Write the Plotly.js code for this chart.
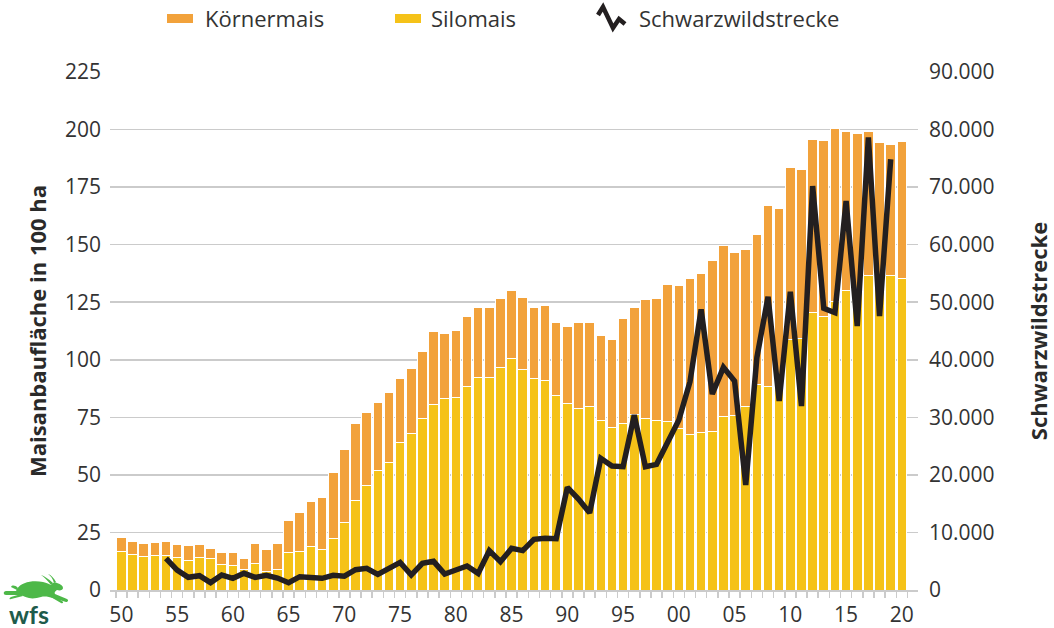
<!DOCTYPE html>
<html>
<head>
<meta charset="utf-8">
<script src="https://cdn.plot.ly/plotly-3.0.1.min.js"></script>
<style>
  html, body { margin: 0; padding: 0; background: #ffffff; }
  #chart { width: 1054px; height: 628px; }
</style>
</head>
<body>
<div id="chart"></div>
<script>
// ---------------- DATA ----------------
const years = [
  1950,1951,1952,1953,1954,1955,1956,1957,1958,1959,
  1960,1961,1962,1963,1964,1965,1966,1967,1968,1969,
  1970,1971,1972,1973,1974,1975,1976,1977,1978,1979,
  1980,1981,1982,1983,1984,1985,1986,1987,1988,1989,
  1990,1991,1992,1993,1994,1995,1996,1997,1998,1999,
  2000,2001,2002,2003,2004,2005,2006,2007,2008,2009,
  2010,2011,2012,2013,2014,2015,2016,2017,2018,2019,
  2020
];

// Silomais (100 ha)
const silomais = [
  16.8,15.3,14.5,15.2,14.9,14.2,12.7,14.3,13.8,11.0,
  10.7, 8.7,11.3, 8.0, 9.0,16.4,16.9,18.7,17.7,22.5,
  29.5,39.0,45.2,51.7,55.6,64.2,67.8,74.3,80.7,83.0,
  83.8,88.6,92.1,92.4,96.7,100.5,95.7,91.7,91.2,84.6,
  81.1,79.0,79.7,73.8,70.7,72.3,76.3,74.6,73.8,73.1,
  70.2,67.6,68.3,68.9,75.3,75.7,79.9,89.1,88.6,89.0,
  108.6,109.3,120.7,118.7,125.2,130.0,131.0,136.4,134.0,136.4,
  135.3
];

// Körnermais (100 ha)
const koernermais = [
  5.8,5.8,5.9,5.6,6.2,5.6,6.7,5.4,4.4,5.1,
  5.7,4.9,9.0,9.5,11.0,13.7,16.7,19.7,22.6,28.6,
  31.6,33.4,31.7,29.7,30.4,27.5,28.5,29.1,31.5,28.6,
  29.0,30.0,30.8,30.1,30.1,29.5,31.4,30.8,32.3,31.7,
  33.5,37.3,36.3,36.7,38.3,45.7,46.6,51.8,52.9,59.4,
  62.2,67.5,69.0,74.3,74.4,70.7,68.2,65.3,78.3,76.9,
  75.0,73.2,74.8,76.5,75.4,69.1,67.4,62.6,60.3,56.9,
  59.4
];

// Schwarzwildstrecke (Anzahl)
const schwarzwildstrecke = [
  null,null,null,null,5500,3470,2200,2490,1280,2600,
  2030,2900,2200,2550,2080,1270,2310,2080,2030,2550,
  2400,3530,3760,2720,3760,4800,2600,4630,4980,2780,
  3470,4170,2890,6840,4920,7240,6840,8800,8980,8920,
  17840,15800,13400,22880,21540,21430,30400,21430,21830,25770,
  29530,36190,48770,34050,38690,36310,18240,40400,50960,32840,
  51830,31970,70190,48940,48180,67580,45870,78650,47600,74830,
  null
];

const xTickVals   = [1950,1955,1960,1965,1970,1975,1980,1985,1990,1995,2000,2005,2010,2015,2020];
const xTickLabels = ['50','55','60','65','70','75','80','85','90','95','00','05','10','15','20'];
const yLeftTicks  = [0,25,50,75,100,125,150,175,200,225];
const yRightTicks = [0,10000,20000,30000,40000,50000,60000,70000,80000,90000];

const seriesNames = ['Körnermais', 'Silomais', 'Schwarzwildstrecke'];

// ---------------- STYLE ----------------
const C_KOERNER = '#F2A23B';
const C_SILO = '#F5C218';
const C_LINE = '#231F20';
const C_GRID = '#CBCBCB';
const C_TEXT = '#333333';

const W = 1054, H = 628;
const M = { l: 110, r: 136, t: 72, b: 38 };
const PW = W - M.l - M.r, PH = H - M.t - M.b;
const px = x => (x - M.l) / PW;          // pixel -> paper x
const py = y => (H - M.b - y) / PH;      // pixel -> paper y

const traces = [
  {
    type: 'bar', name: seriesNames[1], x: years, y: silomais,
    marker: { color: C_SILO, line: { color: '#ffffff', width: 1 } },
    hoverinfo: 'x+y', showlegend: false
  },
  {
    type: 'bar', name: seriesNames[0], x: years, y: koernermais,
    marker: { color: C_KOERNER, line: { color: '#ffffff', width: 1 } },
    hoverinfo: 'x+y', showlegend: false
  },
  {
    type: 'scatter', mode: 'lines', name: seriesNames[2],
    x: years, y: schwarzwildstrecke, yaxis: 'y2',
    line: { color: C_LINE, width: 5.5 },
    connectgaps: false, showlegend: false
  }
];

const tickFont = { family: '"Open Sans", sans-serif', size: 21, color: C_TEXT };
const titleFont = { family: '"Open Sans", sans-serif', size: 22, color: '#2a2a2a', weight: 'bold' };
const legendFont = { family: '"Open Sans", sans-serif', size: 22, color: C_TEXT };

// hare logo as inline SVG (decoration)
const hareSvg = "<svg xmlns='http://www.w3.org/2000/svg' viewBox='0 0 66 32'>" +
  "<g fill='#4DB848'>" +
  "<path d='M14,16 C18,9 30,7 40,9 C44,10 46,11 48,12 C49,10 51,9 54,10 C58,11 60,13 60,15 C60,17 57,18 54,17 C52,18 51,20 52,21 L64,26 C66,27 65,29 63,29 L50,25 C46,24 42,23 38,24 C34,25 30,26 26,25 C22,24 20,23 18,22 L3,22 C0,22 0,18 3,18 L13,18 Z'/>" +
  "<path d='M48,12 C45,8 41,4 38,2 C41,3 46,6 50,10 Z'/>" +
  "<path d='M51,10 C50,6 48,3 45,1 C48,2 51,5 53,9 Z'/>" +
  "<path d='M46,23 L58,30 C60,31 61,29 59,28 L49,22 Z'/>" +
  "<path d='M20,23 L8,26 C6,27 6,25 8,24 L18,21 Z'/>" +
  "<path d='M15,15 C12,12 9,12 8,14 C10,15 12,16 14,17 Z'/>" +
  "</g></svg>";

const layout = {
  width: W, height: H,
  margin: M,
  paper_bgcolor: '#ffffff', plot_bgcolor: '#ffffff',
  separators: ',.',
  barmode: 'stack',
  bargap: 0.14,
  showlegend: false,
  xaxis: {
    type: 'linear',
    range: [1948.98, 2021.45],
    tickmode: 'array', tickvals: xTickVals, ticktext: xTickLabels,
    ticks: '', ticklabelstandoff: 5,
    tickfont: tickFont,
    showgrid: false, zeroline: false,
    showline: true, linecolor: C_GRID, linewidth: 1.5,
    minor: { tickmode: 'linear', tick0: 1949.5, dtick: 1, ticks: 'outside', ticklen: 6, tickwidth: 1.5, tickcolor: C_GRID, showgrid: false },
    fixedrange: true
  },
  yaxis: {
    range: [0, 225],
    tickmode: 'array', tickvals: yLeftTicks,
    tickfont: tickFont, ticklabelstandoff: 8,
    showgrid: true, gridcolor: C_GRID, gridwidth: 1.5,
    zeroline: false, showline: false,
    title: { text: 'Maisanbaufläche in 100 ha', font: titleFont, standoff: 12 },
    fixedrange: true
  },
  yaxis2: {
    overlaying: 'y', side: 'right',
    range: [0, 90000],
    tickmode: 'array', tickvals: yRightTicks, tickformat: ',d',
    tickfont: tickFont, ticklabelstandoff: 10,
    showgrid: false, zeroline: false, showline: false,
    title: { text: 'Schwarzwildstrecke', font: titleFont, standoff: 38 },
    fixedrange: true
  },
  shapes: [
    { type: 'rect', xref: 'paper', yref: 'paper', x0: px(167), x1: px(193), y0: py(23), y1: py(14),
      fillcolor: C_KOERNER, line: { width: 0 } },
    { type: 'rect', xref: 'paper', yref: 'paper', x0: px(395), x1: px(421), y0: py(23), y1: py(14),
      fillcolor: C_SILO, line: { width: 0 } },
    { type: 'path', xref: 'paper', yref: 'paper',
      path: 'M' + px(598) + ',' + py(15) + ' L' + px(603) + ',' + py(7) + ' L' + px(613) + ',' + py(28) +
            ' L' + px(619) + ',' + py(19) + ' L' + px(625) + ',' + py(24),
      line: { color: C_LINE, width: 4.5 } }
  ],
  annotations: [
    { xref: 'paper', yref: 'paper', x: px(203), y: py(18.5), xanchor: 'left', yanchor: 'middle',
      text: seriesNames[0], showarrow: false, font: legendFont },
    { xref: 'paper', yref: 'paper', x: px(429), y: py(18.5), xanchor: 'left', yanchor: 'middle',
      text: seriesNames[1], showarrow: false, font: legendFont },
    { xref: 'paper', yref: 'paper', x: px(637), y: py(18.5), xanchor: 'left', yanchor: 'middle',
      text: seriesNames[2], showarrow: false, font: legendFont },
    { xref: 'paper', yref: 'paper', x: px(29), y: py(614), xanchor: 'center', yanchor: 'middle',
      text: '<b>wfs</b>', showarrow: false,
      font: { family: 'Lato, sans-serif', size: 25, color: '#1E5B4B' } }
  ],
  images: [
    { source: 'data:image/svg+xml;charset=utf-8,' + encodeURIComponent(hareSvg),
      xref: 'paper', yref: 'paper', x: px(3), y: py(573), sizex: 66 / PW, sizey: 32 / PH,
      xanchor: 'left', yanchor: 'top', sizing: 'stretch', layer: 'above' }
  ]
};

Plotly.newPlot('chart', traces, layout, { displayModeBar: false, staticPlot: true });
</script>
</body>
</html>
